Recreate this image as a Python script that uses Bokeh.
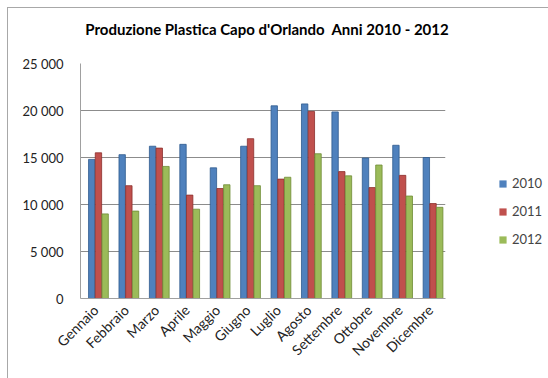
import math
from bokeh.plotting import figure
from bokeh.layouts import row, column
from bokeh.models import ColumnDataSource, FixedTicker, Legend, LegendItem, FactorRange, Div
from bokeh.transform import dodge
from bokeh.embed import file_html
from bokeh.resources import INLINE

titolo = "Produzione Plastica Capo d'Orlando&nbsp; Anni 2010 - 2012"
mesi = ["Gennaio", "Febbraio", "Marzo", "Aprile", "Maggio", "Giugno",
        "Luglio", "Agosto", "Settembre", "Ottobre", "Novembre", "Dicembre"]
anni = ["2010", "2011", "2012"]
v2010 = [14800, 15300, 16200, 16400, 13900, 16200, 20500, 20700, 19850, 14950, 16300, 15000]
v2011 = [15500, 12000, 16000, 11000, 11700, 17000, 12700, 19900, 13500, 11800, 13100, 10100]
v2012 = [9000, 9300, 14050, 9500, 12100, 12000, 12900, 15400, 13050, 14200, 10900, 9700]
colori = ["#4F81BD", "#C0504D", "#9BBB59"]
bordi = ["#2E5A8E", "#8C2F2C", "#6F8C35"]
y_ticks = [0, 5000, 10000, 15000, 20000, 25000]
y_labels = ["0", "5 000", "10 000", "15 000", "20 000", "25 000"]

src = ColumnDataSource(dict(mese=mesi, a2010=v2010, a2011=v2011, a2012=v2012))

FONT = "Lato"

head = Div(text='<div style="width:518px;padding-top:11px;text-align:center;white-space:nowrap">'
                + titolo + '</div>',
           width=518, height=40, margin=0,
           styles={"font-family": FONT, "font-weight": "bold", "font-size": "15px", "color": "#000000"})

p = figure(x_range=FactorRange(*mesi), y_range=(0, 25000),
           width=462, height=330, output_backend="svg", toolbar_location=None,
           min_border_left=72, min_border_top=15, min_border_right=25, min_border_bottom=80)

offsets = [-0.13, 0.09, 0.31]
cols = ["a2010", "a2011", "a2012"]
for c, off, col, bc in zip(cols, offsets, colori, bordi):
    p.vbar(x=dodge("mese", off, range=p.x_range), top=c, width=0.21, source=src,
           fill_color=col, line_color=bc, line_width=0.8)

p.yaxis.ticker = FixedTicker(ticks=y_ticks)
p.yaxis.major_label_overrides = {t: l for t, l in zip(y_ticks, y_labels)}
p.yaxis.major_tick_line_color = None
p.yaxis.minor_tick_line_color = None
p.yaxis.axis_line_color = "#a0a0a0"
p.yaxis.major_label_text_font = FONT
p.yaxis.major_label_text_font_size = "13px"
p.yaxis.major_label_text_color = "#222222"
p.yaxis.major_label_standoff = 11

p.xaxis.major_label_orientation = math.pi / 4
p.xaxis.major_tick_line_color = None
p.xaxis.axis_line_color = "#a0a0a0"
p.xaxis.major_label_text_font = FONT
p.xaxis.major_label_text_font_size = "14px"
p.xaxis.major_label_text_color = "#222222"
p.xaxis.major_label_standoff = 3

p.xgrid.grid_line_color = None
p.ygrid.grid_line_color = "#8c8c8c"
p.ygrid.grid_line_width = 1
p.outline_line_color = None
p.x_range.range_padding = 0

# legend panel
q = figure(width=78, height=330, output_backend="svg", toolbar_location=None,
           x_range=(0, 1), y_range=(0, 1), min_border=0)
q.axis.visible = False
q.grid.visible = False
q.outline_line_color = None
offscreen = ColumnDataSource(dict(x=[5], top=[5]))
leg_r = [q.vbar(x="x", top="top", width=0.1, source=offscreen, fill_color=col, line_color=None)
         for col in colori]
legend = Legend(items=[LegendItem(label=a, renderers=[r]) for a, r in zip(anni, leg_r)],
                location=(28, 51), border_line_color=None, background_fill_alpha=0,
                glyph_width=9, glyph_height=9, spacing=12, label_text_font=FONT,
                label_text_font_size="13px", label_standoff=5, margin=0, padding=0)
q.add_layout(legend, "center")

layout = column(head, row(p, q),
                styles={"margin-left": "7px", "margin-top": "7px",
                        "border-left": "1px solid #a8a8a8",
                        "border-top": "1px solid #a8a8a8"})
open("out.html", "w").write(file_html(layout, INLINE))
